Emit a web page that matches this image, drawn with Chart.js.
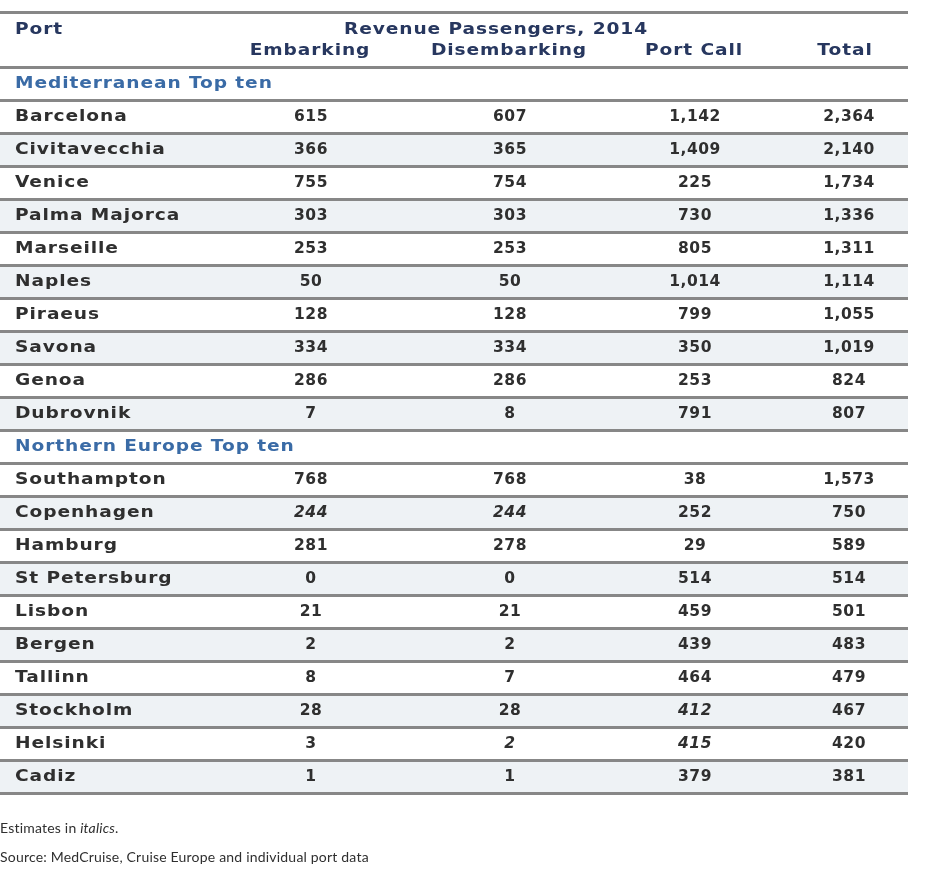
<!DOCTYPE html>
<html>
<head>
<meta charset="utf-8">
<script src="https://cdn.jsdelivr.net/npm/chart.js@4"></script>
<style>
  html, body { margin: 0; padding: 0; background: #ffffff; }
  canvas { display: block; }
</style>
</head>
<body>
<canvas id="c" width="932" height="881"></canvas>
<script>
// ---- data ----
const portHeader = 'Port';
const groupHeader = 'Revenue Passengers, 2014';
const columnHeaders = ['Embarking', 'Disembarking', 'Port Call', 'Total'];
const sectionTitles = ['Mediterranean Top ten', 'Northern Europe Top ten'];
const medPorts = ['Barcelona', 'Civitavecchia', 'Venice', 'Palma Majorca', 'Marseille', 'Naples', 'Piraeus', 'Savona', 'Genoa', 'Dubrovnik'];
const northPorts = ['Southampton', 'Copenhagen', 'Hamburg', 'St Petersburg', 'Lisbon', 'Bergen', 'Tallinn', 'Stockholm', 'Helsinki', 'Cadiz'];
const embarking    = [615, 366, 755, 303, 253, 50, 128, 334, 286, 7,   768, 244, 281, 0, 21, 2, 8, 28, 3, 1];
const disembarking = [607, 365, 754, 303, 253, 50, 128, 334, 286, 8,   768, 244, 278, 0, 21, 2, 7, 28, 2, 1];
const portCall     = [1142, 1409, 225, 730, 805, 1014, 799, 350, 253, 791,   38, 252, 29, 514, 459, 439, 464, 412, 415, 379];
const total        = [2364, 2140, 1734, 1336, 1311, 1114, 1055, 1019, 824, 807,   1573, 750, 589, 514, 501, 483, 479, 467, 420, 381];
const estimates = ['Copenhagen|Embarking', 'Copenhagen|Disembarking', 'Stockholm|Port Call', 'Helsinki|Disembarking', 'Helsinki|Port Call'];
const footnoteEstimates = ['Estimates in ', 'italics', '.'];
const footnoteSource = 'Source: MedCruise, Cruise Europe and individual port data';

// ---- build rows ----
const rowLabels = [];
const rowKind = [];
const rowPortIndex = [];
const shade = [];
let pIdx = 0;
[medPorts, northPorts].forEach((ports, s) => {
  rowLabels.push(sectionTitles[s]); rowKind.push('section'); rowPortIndex.push(-1); shade.push(null);
  ports.forEach((p, k) => {
    rowLabels.push(p); rowKind.push('port'); rowPortIndex.push(pIdx++);
    shade.push(k % 2 === 1 ? 1 : null);
  });
});
const columns = [embarking, disembarking, portCall, total];

// ---- layout / style ----
const FONT = '"DejaVu Sans", sans-serif';
const LABEL_FONT = 'bold 15.5px ' + FONT;
const NUM_FONT = 'bold 15.5px ' + FONT;
const LABEL_SX = 1.2;
const LABEL_LS = '0.75px';
const colCenters = [311, 510, 695, 849];
const headerCenters = [310, 509, 694, 845];
const portX = 15;
const tableRight = 908;
const lineColor = '#878787';
const textColor = '#2f2f2f';
const headColor = '#27375f';
const sectionColor = '#3a6ba6';

function fmt(v) { return v.toLocaleString('en-US'); }

function drawScaled(ctx, text, x, y, sx) {
  ctx.save();
  ctx.translate(x, y);
  ctx.scale(sx, 1);
  ctx.fillText(text, 0, 0);
  ctx.restore();
}

const tablePlugin = {
  id: 'tableText',
  afterDraw(chart) {
    const ctx = chart.ctx;
    const y = chart.scales.y;
    ctx.save();
    // top rule
    ctx.strokeStyle = lineColor;
    ctx.lineWidth = 3;
    ctx.beginPath(); ctx.moveTo(0, 12.5); ctx.lineTo(tableRight, 12.5); ctx.stroke();

    ctx.textBaseline = 'middle';
    // header
    ctx.letterSpacing = LABEL_LS;
    ctx.font = LABEL_FONT;
    ctx.fillStyle = headColor;
    ctx.textAlign = 'left';
    drawScaled(ctx, portHeader, portX, 30, LABEL_SX);
    ctx.textAlign = 'center';
    drawScaled(ctx, groupHeader, 496, 30, LABEL_SX);
    columnHeaders.forEach((h, i) => drawScaled(ctx, h, headerCenters[i], 51, LABEL_SX));

    // rows
    rowLabels.forEach((lab, i) => {
      const py = y.getPixelForValue(i) + 0.5;
      ctx.letterSpacing = LABEL_LS;
      if (rowKind[i] === 'section') {
        ctx.font = LABEL_FONT;
        ctx.fillStyle = sectionColor;
        ctx.textAlign = 'left';
        drawScaled(ctx, lab, portX, py, LABEL_SX);
        return;
      }
      const pi = rowPortIndex[i];
      ctx.fillStyle = textColor;
      ctx.font = LABEL_FONT;
      ctx.textAlign = 'left';
      drawScaled(ctx, lab, portX, py, LABEL_SX);
      ctx.textAlign = 'center';
      ctx.letterSpacing = '0.5px';
      columns.forEach((col, c) => {
        const est = estimates.includes(lab + '|' + columnHeaders[c]);
        ctx.font = (est ? 'italic ' : '') + NUM_FONT;
        ctx.fillText(fmt(col[pi]), colCenters[c], py);
      });
    });

    // footnotes
    ctx.letterSpacing = '0.2px';
    ctx.fillStyle = textColor;
    ctx.textAlign = 'left';
    let fx = 0;
    ctx.font = '14px Lato, sans-serif';
    ctx.fillText(footnoteEstimates[0], fx, 828);
    fx += ctx.measureText(footnoteEstimates[0]).width;
    ctx.font = 'italic 14px Lato, sans-serif';
    ctx.fillText(footnoteEstimates[1], fx, 828);
    fx += ctx.measureText(footnoteEstimates[1]).width;
    ctx.font = '14px Lato, sans-serif';
    ctx.fillText(footnoteEstimates[2], fx, 828);
    ctx.fillText(footnoteSource, 0, 857);
    ctx.restore();
  }
};

new Chart(document.getElementById('c'), {
  type: 'bar',
  data: {
    labels: rowLabels,
    datasets: [{
      data: shade,
      backgroundColor: '#eef2f5',
      borderWidth: 0,
      barPercentage: 1,
      categoryPercentage: 1
    }]
  },
  options: {
    indexAxis: 'y',
    responsive: false,
    animation: false,
    events: [],
    layout: { padding: { top: 67, bottom: 88, left: 0, right: 932 - tableRight } },
    plugins: { legend: { display: false }, tooltip: { enabled: false } },
    scales: {
      x: { type: 'linear', min: 0, max: 1, display: false },
      y: {
        type: 'category',
        offset: true,
        border: { display: false },
        ticks: { display: false, padding: 0 },
        grid: { offset: true, drawTicks: false, color: lineColor, lineWidth: 3, z: 1 }
      }
    }
  },
  plugins: [tablePlugin]
});
</script>
</body>
</html>
